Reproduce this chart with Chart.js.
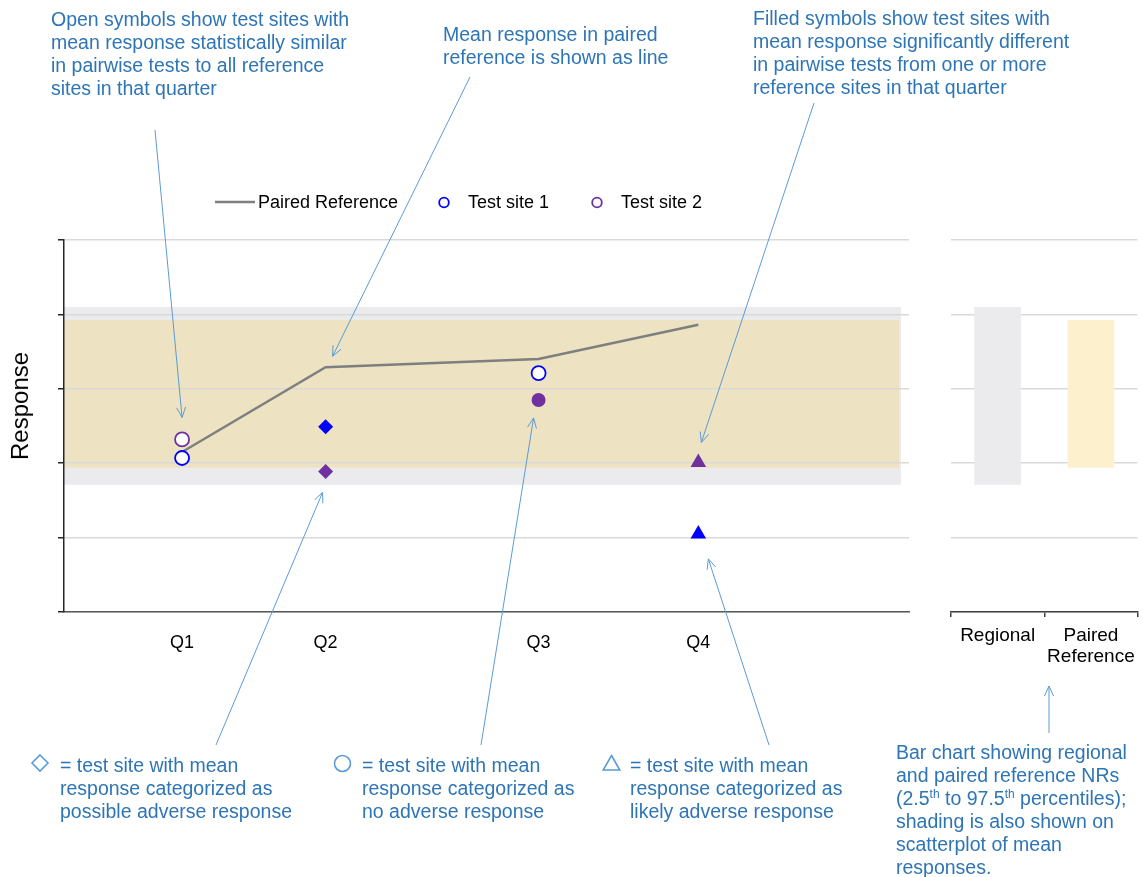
<!DOCTYPE html>
<html lang="en">
<head>
<meta charset="utf-8">
<title>Mean response by quarter</title>
<script src="https://cdn.jsdelivr.net/npm/chart.js@4.4.1/dist/chart.umd.min.js"></script>
<style>
  html, body { margin:0; padding:0; background:#fff; }
  #page { position:relative; width:1143px; height:877px; overflow:hidden;
          font-family:"Liberation Sans", Arial, Helvetica, sans-serif; }
  #page canvas { position:absolute; left:0; top:0; }
  .note { position:absolute; color:#2e75b6; font-size:19.5px; line-height:23px; white-space:nowrap; }
  .note sup { font-size:12px; line-height:0; vertical-align:7px; }
  .sym { position:absolute; overflow:visible; }
  #yTitle { position:absolute; left:20px; top:406px; transform:translate(-50%,-50%) rotate(-90deg);
            font-size:24px; line-height:1; color:#000; white-space:nowrap; }
  .leg { position:absolute; top:193px; height:18px; line-height:18px; display:flex; align-items:center;
         font-size:18px; color:#000; white-space:nowrap; }
</style>
</head>
<body>
<div id="page">
  <canvas id="mainChart" width="1143" height="877"></canvas>
  <canvas id="rangeChart" width="1143" height="877"></canvas>
  <div id="yTitle">Response</div>
  <div id="legend"></div>

  <div class="note" style="left:51px;top:8px">Open symbols show test sites with<br>mean response statistically similar<br>in pairwise tests to all reference<br>sites in that quarter</div>
  <div class="note" style="left:443px;top:23px">Mean response in paired<br>reference is shown as line</div>
  <div class="note" style="left:753px;top:7px">Filled symbols show test sites with<br>mean response significantly different<br>in pairwise tests from one or more<br>reference sites in that quarter</div>

  <svg class="sym" style="left:31px;top:754px" width="18" height="18"><path d="M9 1 L17 9 L9 17 L1 9 Z" fill="none" stroke="#5b9bd5" stroke-width="1.6"/></svg>
  <div class="note" style="left:60px;top:754px">= test site with mean<br>response categorized as<br>possible adverse response</div>

  <svg class="sym" style="left:333px;top:754px" width="19" height="19"><circle cx="9.5" cy="9.5" r="8" fill="none" stroke="#5b9bd5" stroke-width="1.6"/></svg>
  <div class="note" style="left:362px;top:754px">= test site with mean<br>response categorized as<br>no adverse response</div>

  <svg class="sym" style="left:602px;top:754px" width="19" height="18"><path d="M9.5 1.5 L17.8 16 L1.2 16 Z" fill="none" stroke="#5b9bd5" stroke-width="1.6"/></svg>
  <div class="note" style="left:630px;top:754px">= test site with mean<br>response categorized as<br>likely adverse response</div>

  <div class="note" style="left:896px;top:741px">Bar chart showing regional<br>and paired reference NRs<br>(2.5<sup>th</sup> to 97.5<sup>th</sup> percentiles);<br>shading is also shown on<br>scatterplot of mean<br>responses.</div>
</div>

<script>
// ---- data -------------------------------------------------------------
const quarterLabels = ['Q1', 'Q2', 'Q3', 'Q4'];
const sampleDay     = [51, 113, 205, 274];          // day of year sampled
const pairedRefMean = [2.15, 3.29, 3.40, 3.86];

const site1Mean     = [2.07, 2.49, 3.21, 1.05];
const site1Category = ['none', 'possible', 'none', 'likely'];
const site1Differs  = [false, true, false, true];

const site2Mean     = [2.32, 1.89, 2.85, 2.01];
const site2Category = ['none', 'possible', 'none', 'likely'];
const site2Differs  = [false, true, true, true];

const rangeLabels   = ['Regional', ['Paired', 'Reference']];
const regionalNR    = [1.71, 4.10];                 // 2.5th – 97.5th percentile
const pairedNR      = [1.94, 3.925];

const yMin = 0, yMax = 5, yStep = 1;

// ---- styles -----------------------------------------------------------
const FONT = '"Liberation Sans", Arial, Helvetica, sans-serif';
const GRID = '#d9d9d9';
const site1Color = '#0000ff';
const site2Color = '#7030a0';
const refLineColor = '#7f7f7f';
const regionalFill = '#ebebed';
const pairedFill = '#fdf0cc';
const pairedOnRegional = '#ede3c2';
const calloutColor = '#5b9bd5';

const symbolOf = { none: 'circle', possible: 'rectRot', likely: 'triangle' };
const radiusOf = { none: 7, possible: 7.5, likely: 9 };

function siteDataset(label, color, means, cats, differs) {
  return {
    label,
    data: sampleDay.map((d, i) => ({ x: d, y: means[i] })),
    showLine: false,
    order: 0,
    legendColor: color,
    pointStyle: cats.map(c => symbolOf[c]),
    pointRadius: cats.map(c => radiusOf[c]),
    pointBackgroundColor: differs.map(f => (f ? color : '#ffffff')),
    pointBorderColor: color,
    pointBorderWidth: differs.map(f => (f ? 0 : 1.8))
  };
}

// Normal-range shading behind the scatter
const bandPlugin = {
  id: 'nrBands',
  beforeDraw(chart) {
    const { ctx, chartArea: a, scales: { y } } = chart;
    const band = (range, color, inset) => {
      const top = y.getPixelForValue(range[1]);
      const bot = y.getPixelForValue(range[0]);
      ctx.fillStyle = color;
      ctx.fillRect(a.left, top, a.right - inset - a.left, bot - top);
    };
    ctx.save();
    band(regionalNR, regionalFill, 8);
    band(pairedNR, pairedOnRegional, 10);
    ctx.restore();
  }
};

// Callout arrows from the notes to the marks they describe
const callouts = [
  { from: [155, 130], ds: 2, pt: 0, dx: 0,  dy: -22 },
  { from: [470, 77],  ds: 0, pt: 1, dx: 7,  dy: -11 },
  { from: [814, 103], ds: 2, pt: 3, dx: 3,  dy: -20 },
  { from: [216, 745], ds: 2, pt: 1, dx: -3, dy: 21 },
  { from: [481, 745], ds: 2, pt: 2, dx: -5, dy: 18 },
  { from: [769, 745], ds: 1, pt: 3, dx: 10, dy: 25 }
];
function drawArrow(ctx, x0, y0, x1, y1) {
  const ang = Math.atan2(y1 - y0, x1 - x0);
  const len = 11, spread = 0.42;
  ctx.beginPath();
  ctx.moveTo(x0, y0);
  ctx.lineTo(x1, y1);
  ctx.moveTo(x1 - len * Math.cos(ang - spread), y1 - len * Math.sin(ang - spread));
  ctx.lineTo(x1, y1);
  ctx.lineTo(x1 - len * Math.cos(ang + spread), y1 - len * Math.sin(ang + spread));
  ctx.stroke();
}
const calloutPlugin = {
  id: 'callouts',
  afterDraw(chart) {
    const ctx = chart.ctx;
    ctx.save();
    ctx.strokeStyle = calloutColor;
    ctx.lineWidth = 1;
    callouts.forEach(c => {
      const el = chart.getDatasetMeta(c.ds).data[c.pt];
      drawArrow(ctx, c.from[0], c.from[1], el.x + c.dx, el.y + c.dy);
    });
    drawArrow(ctx, 1049, 733, 1049, 686);
    ctx.restore();
  }
};

Chart.defaults.font.family = FONT;
Chart.defaults.color = '#000';

const mainChart = new Chart(document.getElementById('mainChart'), {
  type: 'scatter',
  data: {
    datasets: [
      {
        type: 'line',
        label: 'Paired Reference',
        data: sampleDay.map((d, i) => ({ x: d, y: pairedRefMean[i] })),
        borderColor: refLineColor,
        borderWidth: 2.5,
        pointRadius: 0,
        tension: 0,
        fill: false,
        order: 1,
        legendColor: refLineColor
      },
      siteDataset('Test site 1', site1Color, site1Mean, site1Category, site1Differs),
      siteDataset('Test site 2', site2Color, site2Mean, site2Category, site2Differs)
    ]
  },
  options: {
    responsive: false,
    animation: false,
    events: [],
    layout: { padding: { left: 0, top: 240, right: 234, bottom: 0 } },
    plugins: { legend: { display: false }, tooltip: { enabled: false } },
    scales: {
      x: {
        type: 'linear', min: 0, max: 365,
        grid: { display: false, drawTicks: false },
        border: { display: true, color: '#595959', width: 1.5 },
        afterBuildTicks: s => { s.ticks = sampleDay.map(v => ({ value: v })); },
        ticks: {
          autoSkip: false, maxRotation: 0, padding: 20,
          font: { size: 18 }, color: '#000',
          callback: v => quarterLabels[sampleDay.indexOf(v)]
        },
        afterFit: s => { s.height = 265; }
      },
      y: {
        min: yMin, max: yMax,
        ticks: { display: false, stepSize: yStep },
        grid: { color: GRID, lineWidth: 1.5, tickLength: 6, tickColor: '#262626' },
        border: { color: '#262626', width: 1.5 },
        afterFit: s => { s.width = 64; }
      }
    }
  },
  plugins: [bandPlugin, calloutPlugin]
});

// Side panel: normal ranges as floating bars
new Chart(document.getElementById('rangeChart'), {
  type: 'bar',
  data: {
    labels: rangeLabels,
    datasets: [{
      data: [regionalNR, pairedNR],
      backgroundColor: [regionalFill, pairedFill],
      borderWidth: 0,
      barPercentage: 0.5,
      categoryPercentage: 1
    }]
  },
  options: {
    responsive: false,
    animation: false,
    events: [],
    layout: { padding: { left: 951, top: 240, right: 1, bottom: 0 } },
    plugins: { legend: { display: false }, tooltip: { enabled: false } },
    scales: {
      x: {
        grid: { display: true, drawOnChartArea: false, drawTicks: true, tickLength: 5,
                color: '#404040', lineWidth: 1.5, offset: true },
        border: { color: '#404040', width: 1.5 },
        ticks: { font: { size: 19, lineHeight: 1.12 }, color: '#000', padding: 8, maxRotation: 0, autoSkip: false },
        afterFit: s => { s.height = 265; }
      },
      y: {
        min: yMin, max: yMax, z: 1,
        ticks: { display: false, stepSize: yStep },
        grid: { color: GRID, lineWidth: 1.5, drawTicks: false },
        border: { display: false },
        afterFit: s => { s.width = 0; }
      }
    }
  }
});

// Legend built from the main chart's datasets
(function buildLegend() {
  const host = document.getElementById('legend');
  const starts = [215, 438, 591];
  mainChart.data.datasets.forEach((ds, i) => {
    const item = document.createElement('div');
    item.className = 'leg';
    item.style.left = starts[i] + 'px';
    const ns = 'http://www.w3.org/2000/svg';
    const svg = document.createElementNS(ns, 'svg');
    let shape;
    if (ds.type === 'line') {
      svg.setAttribute('width', 40); svg.setAttribute('height', 18);
      shape = document.createElementNS(ns, 'line');
      shape.setAttribute('x1', 0); shape.setAttribute('x2', 40);
      shape.setAttribute('y1', 9); shape.setAttribute('y2', 9);
      shape.setAttribute('stroke-width', 2.5);
      item.style.gap = '3px';
    } else {
      svg.setAttribute('width', 12); svg.setAttribute('height', 18);
      shape = document.createElementNS(ns, 'circle');
      shape.setAttribute('cx', 6); shape.setAttribute('cy', 9.5); shape.setAttribute('r', 4.8);
      shape.setAttribute('fill', 'none');
      shape.setAttribute('stroke-width', 1.8);
      item.style.gap = '18px';
    }
    shape.setAttribute('stroke', ds.legendColor);
    svg.appendChild(shape);
    const txt = document.createElement('span');
    txt.textContent = ds.label;
    item.appendChild(svg);
    item.appendChild(txt);
    host.appendChild(item);
  });
})();
</script>
</body>
</html>
